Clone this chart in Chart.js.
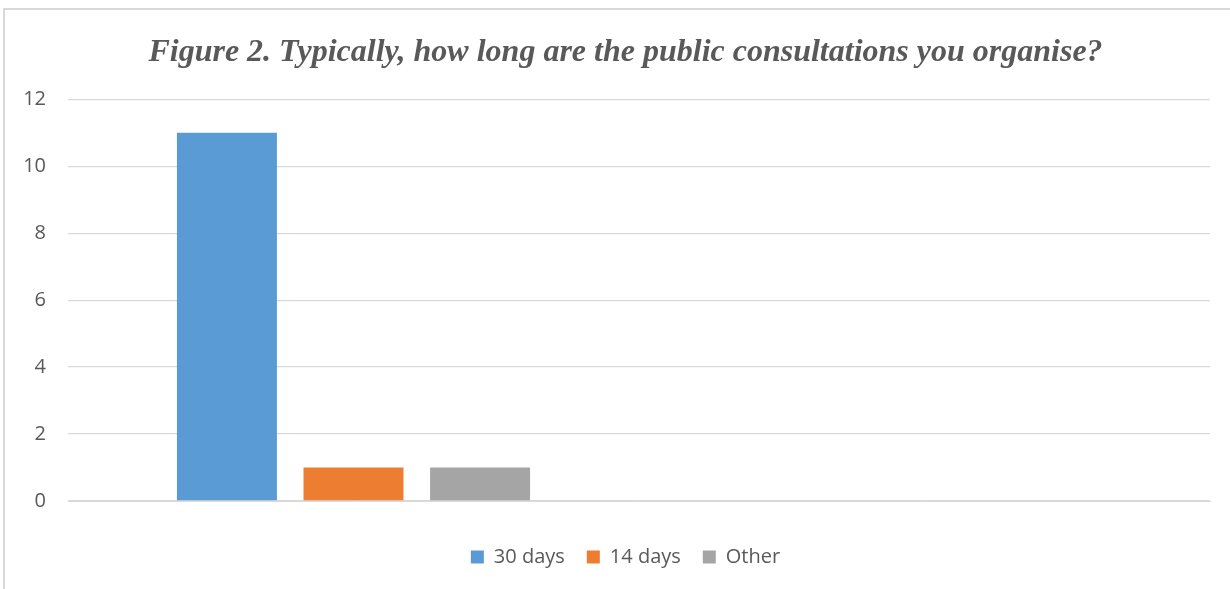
<!DOCTYPE html>
<html>
<head>
<meta charset="utf-8">
<script src="https://cdn.jsdelivr.net/npm/chart.js@4"></script>
<style>
  html, body { margin: 0; padding: 0; background: #fff; }
  #frame {
    position: absolute; left: 3px; top: 8px;
    width: 1227px; height: 581px;
    border-left: 2px solid #d9d9d9; border-top: 2px solid #d9d9d9;
  }
  #chart { display: block; }
</style>
</head>
<body>
<div id="frame"><canvas id="chart" width="1225" height="579"></canvas></div>
<script>
// categories (second one is empty in the source sheet)
const categories = ['', ''];
const seriesNames = ['30 days', '14 days', 'Other'];
const days30 = [11, null];
const days14 = [1, null];
const other = [1, null];
const yTicks = [0, 2, 4, 6, 8, 10, 12];

const colors = ['#5B9BD5', '#ED7D31', '#A5A5A5'];
const values = [days30, days14, other];

// Excel centres the title and legend on the plot area, not the whole canvas
const centerOnPlot = {
  id: 'centerOnPlot',
  afterLayout(chart) {
    [chart.legend, chart.titleBlock].forEach(box => {
      if (box) { box.left += 18; box.right += 18; }
    });
  }
};

const ctx = document.getElementById('chart').getContext('2d');
new Chart(ctx, {
  type: 'bar',
  data: {
    labels: categories,
    datasets: seriesNames.map((name, i) => ({
      label: name,
      data: values[i],
      backgroundColor: colors[i],
      borderWidth: 0,
      categoryPercentage: 0.665,
      barPercentage: 0.79
    }))
  },
  options: {
    responsive: false,
    animation: false,
    layout: { padding: { left: 0, right: 20, top: 0, bottom: 12 } },
    plugins: {
      title: {
        display: true,
        text: 'Figure 2. Typically, how long are the public consultations you organise?',
        color: '#595959',
        font: { family: '"Liberation Serif", "Times New Roman", serif', size: 32, style: 'italic', weight: 'bold' },
        padding: { top: 24, bottom: 27 }
      },
      legend: {
        position: 'bottom',
        labels: {
          color: '#595959',
          font: { family: '"Open Sans", sans-serif', size: 20 },
          boxWidth: 13,
          boxHeight: 13,
          padding: 22
        }
      },
      tooltip: { enabled: false }
    },
    scales: {
      x: {
        grid: { display: false },
        border: { display: true, color: '#d9d9d9', width: 1 },
        ticks: { display: false },
        afterFit: (scale) => { scale.height = 24; }
      },
      y: {
        min: 0,
        max: 12,
        afterBuildTicks: (scale) => { scale.ticks = yTicks.map(v => ({ value: v })); },
        afterFit: (scale) => { scale.width = 63; },
        grid: { color: '#d9d9d9', lineWidth: 1.3, drawTicks: false },
        border: { display: false },
        ticks: {
          color: '#595959',
          font: { family: '"Open Sans", sans-serif', size: 20 },
          padding: 22
        }
      }
    }
  },
  plugins: [centerOnPlot]
});
</script>
</body>
</html>
